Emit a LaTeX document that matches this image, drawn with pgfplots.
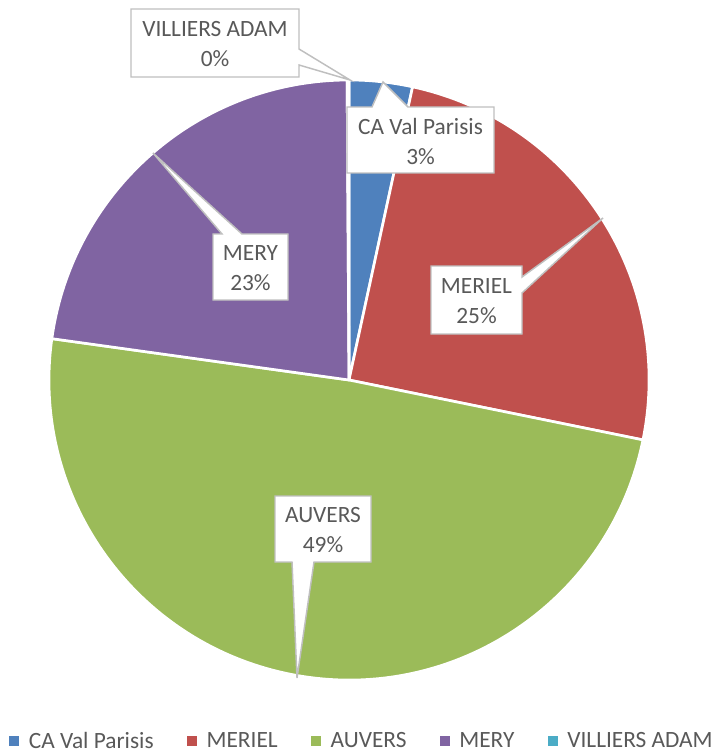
\documentclass[border=0pt]{standalone}
\usepackage{pgfplots}
\pgfplotsset{compat=1.18}
\usepackage{pgfplotstable}
\usepackage{fontspec}
\setmainfont{Carlito}
\definecolor{cCA}{HTML}{4F81BD}
\definecolor{cMERIEL}{HTML}{C0504D}
\definecolor{cAUVERS}{HTML}{9BBB59}
\definecolor{cMERY}{HTML}{8064A2}
\definecolor{cVILL}{HTML}{4BACC6}
\definecolor{txtgray}{HTML}{595959}
\definecolor{boxgray}{HTML}{BFBFBF}

% shares in percent, clockwise from 12 o'clock
\pgfplotstableread{
name share
CA 3.4
MERIEL 24.8
AUVERS 49.0
MERY 22.7
VILLIERS 0.1
}\piedata

\tikzset{
  lbl/.style={font=\fontsize{17.5pt}{22.5pt}\selectfont, text=txtgray, align=center, inner sep=0pt},
  callout/.style={fill=white, draw=boxgray, line width=1.1pt, line join=miter},
  slice/.style={draw=white, line width=2pt, line join=round},
}
% pie centre and radius in pixel units of the axis
\def\cx{349}
\def\cy{380}
\def\rr{300}
\newcommand\slice[3]{% colour, start angle, end angle
  \fill[slice, fill=#1] (axis cs:\cx,\cy) --
    (axis cs:{\cx+\rr*cos(#2)},{\cy-\rr*sin(#2)})
    arc[start angle=#2, end angle=#3, radius=225pt] -- cycle;}

\begin{document}
\begin{tikzpicture}
\pgfmathsetmacro\angA{90}
\pgfplotstablegetelem{0}{share}\of\piedata
\pgfmathsetmacro\angB{\angA-3.6*\pgfplotsretval}
\pgfplotstablegetelem{1}{share}\of\piedata
\pgfmathsetmacro\angC{\angB-3.6*\pgfplotsretval}
\pgfplotstablegetelem{2}{share}\of\piedata
\pgfmathsetmacro\angD{\angC-3.6*\pgfplotsretval}
\pgfplotstablegetelem{3}{share}\of\piedata
\pgfmathsetmacro\angE{\angD-3.6*\pgfplotsretval}
\pgfplotstablegetelem{4}{share}\of\piedata
\pgfmathsetmacro\angF{\angE-3.6*\pgfplotsretval}
\begin{axis}[
  x=0.75pt, y=0.75pt, y dir=reverse,
  xmin=0, xmax=711, ymin=0, ymax=755,
  hide axis, clip=false,
  legend columns=5,
  legend style={at={(axis cs:361,741)}, anchor=center, draw=none, fill=none,
    font=\fontsize{17.5pt}{22.5pt}\selectfont, text=txtgray,
    nodes={inner sep=0pt},
    /tikz/every odd column/.append style={column sep=7.5pt},
    /tikz/every even column/.append style={column sep=25pt}},
]
\addlegendimage{legend image code/.code={\fill[cCA] (0pt,-3.4pt) rectangle (6.8pt,3.4pt);}}
\addlegendentry{CA Val Parisis}
\addlegendimage{legend image code/.code={\fill[cMERIEL] (0pt,-3.4pt) rectangle (6.8pt,3.4pt);}}
\addlegendentry{MERIEL}
\addlegendimage{legend image code/.code={\fill[cAUVERS] (0pt,-3.4pt) rectangle (6.8pt,3.4pt);}}
\addlegendentry{AUVERS}
\addlegendimage{legend image code/.code={\fill[cMERY] (0pt,-3.4pt) rectangle (6.8pt,3.4pt);}}
\addlegendentry{MERY}
\addlegendimage{legend image code/.code={\fill[cVILL] (0pt,-3.4pt) rectangle (6.8pt,3.4pt);}}
\addlegendentry{VILLIERS ADAM}

\slice{cCA}{\angA}{\angB}
\slice{cMERIEL}{\angB}{\angC}
\slice{cAUVERS}{\angC}{\angD}
\slice{cMERY}{\angD}{\angE}
\slice{cVILL}{\angE}{\angF}

% data callouts
\filldraw[callout] (axis cs:131,9) -- (axis cs:299,9) -- (axis cs:299,49) -- (axis cs:350,80)
  -- (axis cs:299,65) -- (axis cs:299,77) -- (axis cs:131,77) -- cycle;
\node[lbl] at (axis cs:215,44) {VILLIERS ADAM\\0\%};
\filldraw[callout] (axis cs:347,107) -- (axis cs:372,107) -- (axis cs:383,82) -- (axis cs:408,107)
  -- (axis cs:494,107) -- (axis cs:494,173) -- (axis cs:347,173) -- cycle;
\node[lbl] at (axis cs:420.5,141) {CA Val Parisis\\3\%};
\filldraw[callout] (axis cs:431,266) -- (axis cs:522,266) -- (axis cs:522,277) -- (axis cs:603,218)
  -- (axis cs:522,293) -- (axis cs:522,334) -- (axis cs:431,334) -- cycle;
\node[lbl] at (axis cs:476.5,301) {MERIEL\\25\%};
\filldraw[callout] (axis cs:213,234) -- (axis cs:222,234) -- (axis cs:153,153) -- (axis cs:242,234)
  -- (axis cs:288,234) -- (axis cs:288,300) -- (axis cs:213,300) -- cycle;
\node[lbl] at (axis cs:250.5,268) {MERY\\23\%};
\filldraw[callout] (axis cs:275,496) -- (axis cs:371,496) -- (axis cs:371,562) -- (axis cs:314,562)
  -- (axis cs:297,678) -- (axis cs:292,562) -- (axis cs:275,562) -- cycle;
\node[lbl] at (axis cs:323,530) {AUVERS\\49\%};

\coordinate (bl) at (axis cs:0,755);
\coordinate (tr) at (axis cs:711,0);
\end{axis}
\pgfresetboundingbox
\path[use as bounding box] (bl) rectangle (tr);
\end{tikzpicture}
\end{document}
